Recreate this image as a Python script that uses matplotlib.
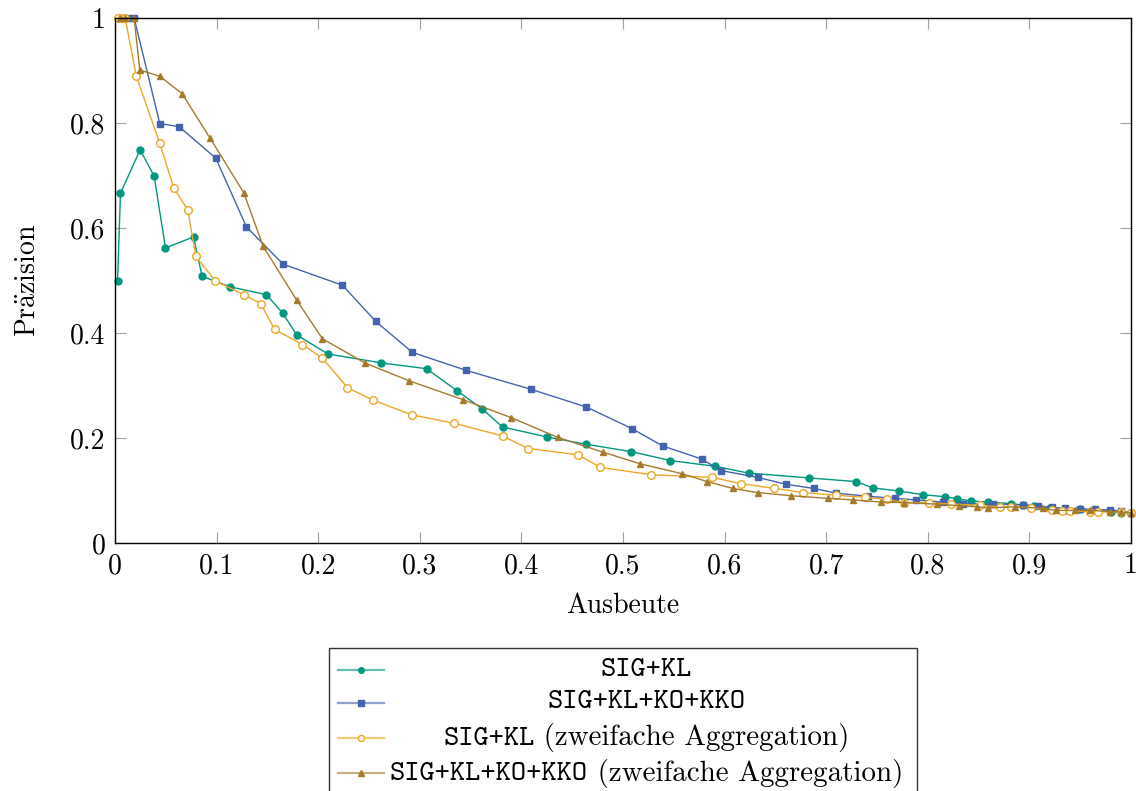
import matplotlib
matplotlib.use('Agg')
import matplotlib.pyplot as plt
from matplotlib.offsetbox import TextArea, HPacker, AnnotationBbox
from matplotlib.patches import Rectangle

plt.rcParams['mathtext.fontset'] = 'cm'
plt.rcParams['font.family'] = ['cmr10', 'DejaVu Serif']
plt.rcParams['axes.formatter.use_mathtext'] = True

# --- data ---
sig_kl_x = [0.0025, 0.0054, 0.0247, 0.0385, 0.0497, 0.0773, 0.0857, 0.1133, 0.149, 0.165,
            0.179, 0.2097, 0.2623, 0.3066, 0.3367, 0.3617, 0.3814, 0.4253, 0.464, 0.5083,
            0.5467, 0.591, 0.6241, 0.6826, 0.7294, 0.7459, 0.7718, 0.7954, 0.8174, 0.8289,
            0.8427, 0.8594, 0.8814, 0.894, 0.905, 0.92, 0.935, 0.95, 0.965, 0.98, 0.99, 1.0]
sig_kl_y = [0.5, 0.666, 0.749, 0.699, 0.562, 0.583, 0.508, 0.488, 0.473, 0.438,
            0.396, 0.360, 0.343, 0.332, 0.290, 0.255, 0.221, 0.202, 0.188, 0.174,
            0.157, 0.146, 0.133, 0.124, 0.117, 0.105, 0.099, 0.092, 0.088, 0.084,
            0.080, 0.078, 0.075, 0.072, 0.070, 0.066, 0.063, 0.064, 0.062, 0.060, 0.058, 0.057]

full_x = [0.0129, 0.0188, 0.0441, 0.0631, 0.0992, 0.1294, 0.1655, 0.2239, 0.2567, 0.2928,
          0.3453, 0.409, 0.464, 0.5087, 0.5389, 0.5773, 0.5966, 0.6324, 0.6602, 0.6875,
          0.710, 0.741, 0.768, 0.788, 0.815, 0.8346, 0.864, 0.894, 0.9086, 0.9227,
          0.935, 0.9496, 0.965, 0.979, 0.99, 1.0]
full_y = [1.0, 1.0, 0.799, 0.793, 0.733, 0.602, 0.531, 0.491, 0.422, 0.363,
          0.329, 0.293, 0.259, 0.218, 0.185, 0.160, 0.138, 0.125, 0.112, 0.104,
          0.095, 0.089, 0.085, 0.082, 0.078, 0.075, 0.074, 0.073, 0.070, 0.068,
          0.066, 0.065, 0.064, 0.063, 0.061, 0.058]

sig_kl2_x = [0.0028, 0.0064, 0.0100, 0.0210, 0.0441, 0.0579, 0.0717, 0.0795, 0.0989, 0.1268,
             0.1435, 0.157, 0.1845, 0.2042, 0.2288, 0.254, 0.2924, 0.3341, 0.3814, 0.4063,
             0.4558, 0.4778, 0.528, 0.588, 0.616, 0.649, 0.677, 0.710, 0.738, 0.7596,
             0.7764, 0.8013, 0.8233, 0.851, 0.871, 0.8814, 0.902, 0.9218, 0.9316, 0.94,
             0.9596, 0.968, 0.9897, 1.0]
sig_kl2_y = [1.0, 1.0, 1.0, 0.889, 0.761, 0.676, 0.634, 0.546, 0.499, 0.473,
             0.456, 0.407, 0.378, 0.352, 0.296, 0.272, 0.244, 0.228, 0.204, 0.180,
             0.168, 0.144, 0.130, 0.125, 0.113, 0.104, 0.096, 0.091, 0.087, 0.083,
             0.077, 0.077, 0.074, 0.072, 0.069, 0.069, 0.067, 0.062, 0.061, 0.061,
             0.060, 0.059, 0.059, 0.057]

full2_x = [0.0047, 0.0096, 0.0188, 0.0244, 0.0441, 0.066, 0.0933, 0.1268, 0.1458, 0.179,
           0.2042, 0.2459, 0.2894, 0.3426, 0.3896, 0.436, 0.4804, 0.5165, 0.5582, 0.5828,
           0.6078, 0.6324, 0.6658, 0.7019, 0.7265, 0.7544, 0.7764, 0.809, 0.8308, 0.848,
           0.8594, 0.8857, 0.9135, 0.926, 0.945, 0.96, 0.979, 0.99, 1.0]
full2_y = [1.0, 1.0, 1.0, 0.901, 0.889, 0.856, 0.772, 0.667, 0.565, 0.462,
           0.389, 0.343, 0.309, 0.273, 0.239, 0.201, 0.173, 0.151, 0.132, 0.117,
           0.104, 0.096, 0.090, 0.085, 0.082, 0.078, 0.077, 0.074, 0.071, 0.069,
           0.067, 0.069, 0.066, 0.062, 0.062, 0.062, 0.060, 0.059, 0.057]

ticks = [0, 0.1, 0.2, 0.3, 0.4, 0.5, 0.6, 0.7, 0.8, 0.9, 1]
xtick_labels = ['0', '0.1', '0.2', '0.3', '0.4', '0.5', '0.6', '0.7', '0.8', '0.9', '1']
yticks = [0, 0.2, 0.4, 0.6, 0.8, 1]
ytick_labels = ['0', '0.2', '0.4', '0.6', '0.8', '1']

# (tt part, rm part) of legend labels
labels = [('SIG+KL', ''),
          ('SIG+KL+KO+KKO', ''),
          ('SIG+KL', ' (zweifache Aggregation)'),
          ('SIG+KL+KO+KKO', ' (zweifache Aggregation)')]

teal = '#00977f'
blue = '#4264ae'
orange = '#eea725'
brown = '#a57b2b'

styles = [dict(color=teal, marker='o', ms=5, mfc=teal, mec=teal),
          dict(color=blue, marker='s', ms=5, mfc=blue, mec=blue),
          dict(color=orange, marker='o', ms=5.5, mfc='white', mec=orange, mew=1.0),
          dict(color=brown, marker='^', ms=5, mfc=brown, mec=brown)]
series = [(sig_kl_x, sig_kl_y), (full_x, full_y), (sig_kl2_x, sig_kl2_y), (full2_x, full2_y)]

W, H = 1136, 791
fig = plt.figure(figsize=(W / 100, H / 100), dpi=100)
ax = fig.add_axes([115 / W, 1 - 543 / H, (1131 - 115) / W, (543 - 18) / H])

for (xs, ys), st in zip(series, styles):
    ax.plot(xs, ys, lw=1.0, clip_on=False, **st)

ax.set_xlim(0, 1)
ax.set_ylim(0, 1)
ax.set_xticks(ticks)
ax.set_xticklabels(xtick_labels)
ax.set_yticks(yticks)
ax.set_yticklabels(ytick_labels)
ax.tick_params(direction='in', length=8, width=0.8, color='#a0a0a0', labelsize=20,
               top=True, right=True, pad=7)
for sp in ax.spines.values():
    sp.set_linewidth(1.0)
ax.set_xlabel('Ausbeute', fontsize=20, labelpad=10)
ax.set_ylabel(r'Pr$\ddot{\rm a}$zision', fontsize=20, labelpad=20)

# legend drawn in pixel coordinates
lax = fig.add_axes([0, 0, 1, 1])
lax.set_xlim(0, W)
lax.set_ylim(H, 0)
lax.axis('off')
lax.add_patch(Rectangle((329, 648), 917 - 329, 200, fill=False, ec='#333333', lw=1.0, clip_on=False))
rows = [670, 703, 737.5, 773]
for (tt, rm), st, ry in zip(labels, styles, rows):
    s = dict(st)
    s['ms'] = s['ms'] * 0.8
    c = s.pop('color')
    lax.plot([338, 384], [ry, ry], lw=1.6, color=c, alpha=0.6)
    lax.plot([361], [ry], lw=0, **s)
    parts = [TextArea(tt, textprops=dict(family='cmtt10', size=20.9))]
    if rm:
        parts.append(TextArea(rm, textprops=dict(family='cmr10', size=20.9)))
    box = HPacker(children=parts, sep=0, pad=0, align='baseline')
    ab = AnnotationBbox(box, (646.5, ry), xycoords='data', frameon=False,
                        box_alignment=(0.5, 0.5), pad=0)
    lax.add_artist(ab)

fig.savefig('out.png', dpi=100)
